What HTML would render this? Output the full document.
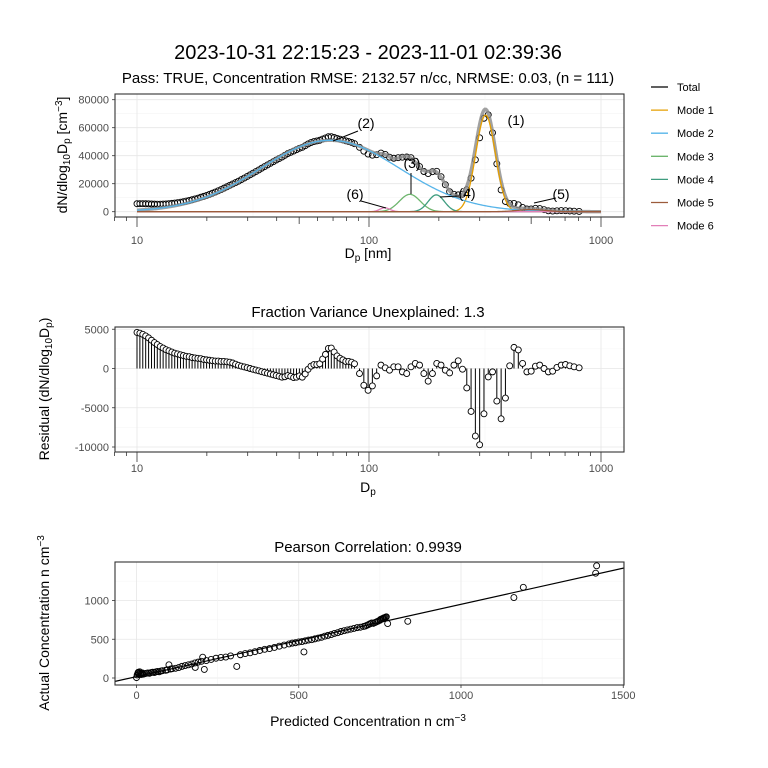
<!DOCTYPE html>
<html><head><meta charset="utf-8"><style>
html,body{margin:0;padding:0;background:#fff;}
svg{display:block;font-family:"Liberation Sans",Arial,sans-serif;}
</style></head><body>
<svg id="fig" width="768" height="768" viewBox="0 0 768 768" xmlns="http://www.w3.org/2000/svg">
<rect x="0" y="0" width="768" height="768" fill="#fff"/>
<text x="368" y="59" font-size="20" text-anchor="middle">2023-10-31 22:15:23 - 2023-11-01 02:39:36</text>
<text x="368" y="83" font-size="15" text-anchor="middle">Pass: TRUE, Concentration RMSE: 2132.57 n/cc, NRMSE: 0.03, (n = 111)</text>
<text x="368" y="317" font-size="15" text-anchor="middle">Fraction Variance Unexplained: 1.3</text>
<text x="368" y="552" font-size="15" text-anchor="middle">Pearson Correlation: 0.9939</text>
<g id="top"></g>
<g id="mid"></g>
<g id="bot"></g>
<text x="368" y="258" font-size="14" text-anchor="middle">D<tspan font-size="10" dy="3">p</tspan><tspan dy="-3">  [nm]</tspan></text>
<text x="368" y="492" font-size="14" text-anchor="middle">D<tspan font-size="10" dy="3">p</tspan></text>
<text x="368" y="726" font-size="14" text-anchor="middle">Predicted Concentration  n cm<tspan font-size="10" dy="-5">−3</tspan></text>
<text transform="translate(67,155) rotate(-90)" font-size="14" text-anchor="middle">dN/dlog<tspan font-size="10" dy="3">10</tspan><tspan dy="-3">D</tspan><tspan font-size="10" dy="3">p</tspan><tspan dy="-3">  [cm</tspan><tspan font-size="10" dy="-5">−3</tspan><tspan dy="5">]</tspan></text>
<text transform="translate(49,389) rotate(-90)" font-size="14" text-anchor="middle">Residual (dN/dlog<tspan font-size="10" dy="3">10</tspan><tspan dy="-3">D</tspan><tspan font-size="10" dy="3">p</tspan><tspan dy="-3">)</tspan></text>
<text transform="translate(49,623) rotate(-90)" font-size="14" text-anchor="middle">Actual Concentration  n cm<tspan font-size="10" dy="-5">−3</tspan></text>
<g id="legend"></g>
</svg>
<script>
const dpDense = [10,10.29,10.59,10.9,11.22,11.55,11.89,12.23,12.59,12.96,13.34,13.73,14.13,14.54,14.96,15.4,15.85,16.31,16.79,17.28,17.78,18.3,18.84,19.39,19.95,20.54,21.13,21.75,22.39,23.04,23.71,24.4,25.12,25.85,26.61,27.38,28.18,29.01,29.85,30.72,31.62,32.55,33.5,34.47,35.48,36.52,37.58,38.68,39.81,40.97,42.17,43.4,44.67,45.97,47.32,48.7,50.12,51.58,53.09,54.64,56.23,57.87,59.57,61.31,63.1,64.94,66.83,68.79,70.79,72.86,74.99,77.18,79.43,81.75,84.14,86.6];
const dpSparse = [91,95,99.1,103.4,107.9,112.6,117.5,122.6,127.9,133.5,139.3,145.4,151.7,158.3,165.2,172.4,179.9,187.7,195.9,204.4,213.3,222.6,232.3,242.4,252.9,263.9,275.4,287.4,299.9,313,326.6,340.8,355.6,371.1,387.3,404.1,421.7,440.1,459.2,479.2,500.1,521.8,544.5,568.2,593,618.8,645.7,673.8,703.1,733.7,765.7,805];
const resDense = [4600,4500,4350,4150,3900,3600,3300,3050,2800,2600,2400,2250,2100,1950,1850,1750,1650,1550,1500,1400,1350,1300,1250,1150,1100,1050,1000,950,950,900,900,850,800,700,550,400,300,200,100,0,-100,-200,-300,-400,-500,-600,-700,-800,-900,-1000,-1100,-1050,-900,-1000,-1150,-1100,-950,-1100,-700,-100,300,500,500,600,1200,1800,2550,2600,2100,1600,1300,1100,900,900,800,600];
const resSparse = [-640,-2140,-2780,-2220,-940,430,90,-210,210,210,-430,-640,210,640,430,-640,-1620,-640,640,430,-210,-560,430,980,-90,-2480,-5470,-8610,-9720,-5770,-1070,-430,-4150,-6410,-3760,340,2690,2370,640,-430,-340,300,430,0,-430,-340,130,430,510,340,210,90];
const modeNames = ["Mode 1","Mode 2","Mode 3","Mode 4","Mode 5","Mode 6"];
const modePeak = [69000,51000,12400,12000,1500,2800];
const modeCenter = [318,68,150,195,500,117];
const modeSigma = [0.042,0.3,0.045,0.035,0.06,0.022];
const modeColors = ["#E69F00","#56B4E9","#6DB56D","#3F9C7F","#9C5B3B","#E27FB8"];
const predicted = [0,2,4,5,6,8,10,12,14,16,18,20,25,30,35,40,45,50,55,60,65,70,75,80,90,95,100,105,110,120,130,140,150,160,170,180,190,204,209,181,200,215,230,245,260,275,290,309,320,335,350,365,380,395,410,425,440,455,470,480,490,500,510,516,520,530,540,550,560,570,580,590,600,610,620,630,640,650,660,670,680,690,700,705,710,715,720,725,730,735,740,745,750,752,755,758,760,762,765,768,770,774,836,1163,1192,1415,1418];
const actual = [5,40,60,70,75,50,80,60,45,55,65,50,55,60,65,60,70,75,70,80,85,80,90,95,100,105,170,115,120,125,135,150,160,170,180,195,205,268,111,136,215,225,240,255,265,270,285,149,300,315,325,340,355,370,380,395,410,425,440,450,455,465,470,336,480,490,495,505,515,525,540,550,560,575,585,600,610,620,630,640,650,655,665,670,680,690,700,710,705,715,725,735,745,755,760,765,770,775,780,785,790,702,732,1038,1170,1353,1447];
const topYTicks = [0,20000,40000,60000,80000];
const midYTicks = [5000,0,-5000,-10000];
const botXTicks = [0,500,1000,1500];
const botYTicks = [0,500,1000];
const logTickLabels = [10,100,1000];

const NS = "http://www.w3.org/2000/svg";
function el(tag, attrs, parent){const e=document.createElementNS(NS,tag);for(const k in attrs)e.setAttribute(k,attrs[k]);parent.appendChild(e);return e;}
const L=115,R=624;
const X=d=>137+232*(Math.log10(d)-1);
const Y1=v=>211.7-v*0.0014;
const Y2=v=>368.5-v*0.00785;
const XP=v=>136.5+v*0.3245;
const YP=v=>678-v*0.0775;
const modeVal=(i,d)=>modePeak[i]*Math.exp(-0.5*Math.pow(Math.log10(d/modeCenter[i])/modeSigma[i],2));
const total=d=>{let s=0;for(let i=0;i<modePeak.length;i++)s+=modeVal(i,d);return s;};
const dps=dpDense.concat(dpSparse);
const res=resDense.concat(resSparse);

function panel(g,top,bottom,name){
  const r=el('rect',{x:L,y:top,width:R-L,height:bottom-top,fill:'#fff'},g);
  
  
}
function frame(g,top,bottom,name){
  const r=el('rect',{x:L,y:top,width:R-L,height:bottom-top,fill:'none',stroke:'#333','stroke-width':1.1},g);
  
  
}
function hgrid(g,y,minor){
  const l=el('line',{x1:L,x2:R,y1:y,y2:y,stroke:minor?'#f4f4f4':'#e6e6e6','stroke-width':minor?0.6:0.8},g);
  
  
}
function vgrid(g,x,top,bottom,minor){
  const l=el('line',{x1:x,x2:x,y1:top,y2:bottom,stroke:minor?'#f4f4f4':'#e6e6e6','stroke-width':minor?0.6:0.8},g);
  
  
}
function ylab(g,y,txt){
  const t=el('line',{x1:112,x2:115,y1:y,y2:y,stroke:'#333','stroke-width':0.8},g);
  
  
  const s=el('text',{x:109,y:y+4,'font-size':11,'text-anchor':'end',fill:'#4d4d4d'},g);
  s.textContent=txt;
  
  
}
function xlab(g,x,y,txt){
  const s=el('text',{x:x,y:y,'font-size':11,'text-anchor':'middle',fill:'#4d4d4d'},g);
  s.textContent=txt;
  
  
}
function logTicks(g,base){
  for(let e=0;e<3;e++){for(let m=1;m<10;m++){
    const d=m*Math.pow(10,e);if(d<8)continue;
    const len=m===1?10:(m===5?7:4);
    const t=el('line',{x1:X(d),x2:X(d),y1:base,y2:base+len,stroke:'#333','stroke-width':0.8},g);
    
    
  }}
  const t=el('line',{x1:X(1000),x2:X(1000),y1:base,y2:base+10,stroke:'#333','stroke-width':0.8},g);
  
  
}

// ---- top panel
const gt=document.getElementById('top');
panel(gt,94,217,'top');
[10000,30000,50000,70000].forEach(v=>hgrid(gt,Y1(v),true));
topYTicks.forEach(v=>hgrid(gt,Y1(v),false));
[31.62,316.2].forEach(d=>vgrid(gt,X(d),94,217,true));
logTickLabels.forEach(d=>vgrid(gt,X(d),94,217,false));
dps.forEach((d,i)=>{
  const c=el('circle',{cx:X(d),cy:Y1(total(d)+res[i]),r:3,fill:'none',stroke:'#000','stroke-width':0.9},gt);
  
  
});
function curvePath(fn){let p='';for(let k=0;k<=500;k++){const d=Math.pow(10,1+2*k/500);p+=(k?'L':'M')+X(d).toFixed(2)+','+Y1(fn(d)).toFixed(2);}return p;}
const tl=el('path',{d:curvePath(total),fill:'none',stroke:'#8a8a8a','stroke-width':3.4,'stroke-opacity':0.8},gt);


[0,1,2,3,5,4].forEach(i=>{
  const p=el('path',{d:curvePath(d=>modeVal(i,d)),fill:'none',stroke:modeColors[i],'stroke-width':1.3},gt);
  
  
});
const labels=[["(1)",516,125,null],["(2)",366,128,[358,131,333,141]],["(3)",412,168,[411,173,411,194]],["(4)",467,198,[459,196,440,197]],["(5)",561,199,[556,198,534,203]],["(6)",355,199,[361,201,386,208]]];
labels.forEach((a,i)=>{
  if(a[3]){const l=el('line',{x1:a[3][0],y1:a[3][1],x2:a[3][2],y2:a[3][3],stroke:'#000','stroke-width':1},gt);
    
    }
  const t=el('text',{x:a[1],y:a[2],'font-size':14,'text-anchor':'middle'},gt);
  t.textContent=a[0];
  
  
});
frame(gt,94,217,'top');
topYTicks.forEach(v=>ylab(gt,Y1(v),String(v)));
logTicks(gt,217);
logTickLabels.forEach(d=>xlab(gt,X(d),244,String(d)));

// ---- residual panel
const gm=document.getElementById('mid');
panel(gm,327,452,'mid');
[2500,-2500,-7500].forEach(v=>hgrid(gm,Y2(v),true));
midYTicks.forEach(v=>hgrid(gm,Y2(v),false));
[31.62,316.2].forEach(d=>vgrid(gm,X(d),327,452,true));
logTickLabels.forEach(d=>vgrid(gm,X(d),327,452,false));
dps.forEach((d,i)=>{
  const s=el('line',{x1:X(d),x2:X(d),y1:Y2(0),y2:Y2(res[i]),stroke:'#000','stroke-width':1},gm);
  
  
});
dps.forEach((d,i)=>{
  const c=el('circle',{cx:X(d),cy:Y2(res[i]),r:3,fill:'#fff',stroke:'#000','stroke-width':0.9},gm);
  
  
});
frame(gm,327,452,'mid');
midYTicks.forEach(v=>ylab(gm,Y2(v),String(v)));
logTicks(gm,452);
logTickLabels.forEach(d=>xlab(gm,X(d),472,String(d)));

// ---- pearson panel
const gb=document.getElementById('bot');
panel(gb,562,685,'bot');
[250,750,1250].forEach(v=>hgrid(gb,YP(v),true));
botYTicks.forEach(v=>hgrid(gb,YP(v),false));
[250,750,1250].forEach(v=>vgrid(gb,XP(v),562,685,true));
botXTicks.forEach(v=>vgrid(gb,XP(v),562,685,false));
predicted.forEach((p,i)=>{
  const c=el('circle',{cx:XP(p),cy:YP(actual[i]),r:3,fill:'none',stroke:'#000','stroke-width':0.9},gb);
  
  
});
(function(){
  const n=predicted.length;let mx=0,my=0;for(let i=0;i<n;i++){mx+=predicted[i];my+=actual[i];}mx/=n;my/=n;
  let sxy=0,sxx=0;for(let i=0;i<n;i++){sxy+=(predicted[i]-mx)*(actual[i]-my);sxx+=(predicted[i]-mx)**2;}
  const b=sxy/sxx,a=my-b*mx;
  const x0=(L-136.5)/0.3245,x1=(R-136.5)/0.3245;
  const cp=document.createElementNS(NS,'clipPath');cp.setAttribute('id','bc');
  el('rect',{x:L,y:562,width:R-L,height:123},cp);gb.appendChild(cp);
  const l=el('line',{x1:XP(x0),y1:YP(a+b*x0),x2:XP(x1),y2:YP(a+b*x1),stroke:'#000','stroke-width':1.2,'clip-path':'url(#bc)'},gb);
  
  
})();
frame(gb,562,685,'bot');
botYTicks.forEach(v=>ylab(gb,YP(v),String(v)));
botXTicks.forEach(v=>{
  const t=el('line',{x1:XP(v),x2:XP(v),y1:685,y2:688,stroke:'#333','stroke-width':0.8},gb);
  
  
  xlab(gb,XP(v),699,String(v));
});

// ---- legend
const lg=document.getElementById('legend');
const legNames=["Total"].concat(modeNames);
const legCols=["#000"].concat(modeColors);
legNames.forEach((nm,i)=>{
  const y=87+i*23.1;
  const l=el('line',{x1:651,x2:668,y1:y,y2:y,stroke:legCols[i],'stroke-width':1.3},lg);
  
  
  const t=el('text',{x:677,y:y+4,'font-size':11},lg);
  t.textContent=nm;
  
  
});
</script>
</body></html>
